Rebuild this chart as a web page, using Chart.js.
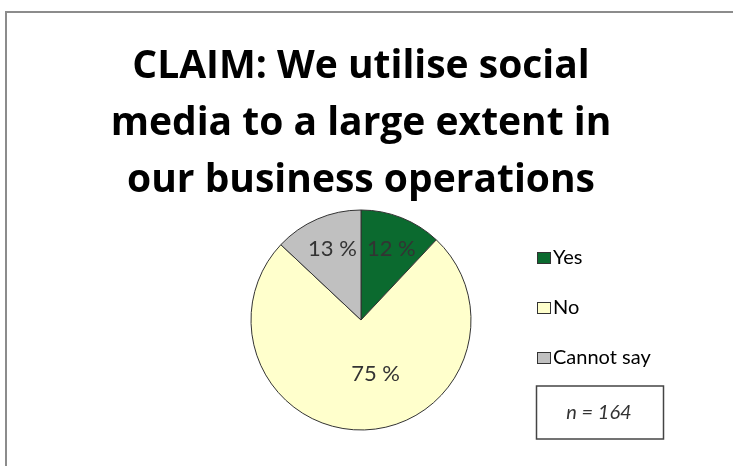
<!DOCTYPE html>
<html>
<head>
<meta charset="utf-8">
<script src="https://cdn.jsdelivr.net/npm/chart.js@4.4.1/dist/chart.umd.min.js"></script>
<style>
  html, body { margin: 0; padding: 0; background: #fff; }
  #wrap { position: relative; width: 733px; height: 466px; overflow: hidden; }
  #wrap canvas { position: absolute; left: 0; top: 0; }
  #frame {
    position: absolute; left: 5px; top: 11px; right: -4px; bottom: -4px;
    border-left: 2px solid #8c8c8c; border-top: 2px solid #8c8c8c;
    pointer-events: none;
  }
</style>
</head>
<body>
<div id="wrap">
  <canvas id="claimChart" width="733" height="466"></canvas>
  <div id="frame"></div>
</div>
<script>
const titleLines = ['CLAIM: We utilise social', 'media to a large extent in', 'our business operations'];
const answers = ['Yes', 'No', 'Cannot say'];
const shares = [12, 75, 13];
const sliceColors = ['#0b6a2f', '#ffffcc', '#c0c0c0'];
const sampleNote = 'n = 164';

// percent labels inside each slice
const sliceLabels = {
    id: 'sliceLabels',
    afterDatasetsDraw(chart) {
        const {ctx} = chart;
        const meta = chart.getDatasetMeta(0);
        ctx.save();
        ctx.font = '22px Lato';
        ctx.fillStyle = '#333';
        ctx.textAlign = 'center';
        ctx.textBaseline = 'middle';
        meta.data.forEach((arc, i) => {
            const p = arc.getProps(['x', 'y', 'startAngle', 'endAngle', 'outerRadius']);
            let mid = (p.startAngle + p.endAngle) / 2;
            let k = 0.7;
            if (shares[i] > 50) {
                // big slice: pull label in and a little towards the right
                mid -= 0.2;
                k = 0.5;
            }
            const r = p.outerRadius * k;
            ctx.fillText(shares[i] + ' %', p.x + Math.cos(mid) * r + 2, p.y + Math.sin(mid) * r);
        });
        ctx.restore();
    }
};

// legend column and the sample size box on the right
const sideLegend = {
    id: 'sideLegend',
    afterDraw(chart) {
        const {ctx} = chart;
        const x = 537, y0 = 257.5, step = 50;
        ctx.save();
        ctx.font = '20px Lato';
        ctx.textBaseline = 'middle';
        ctx.textAlign = 'left';
        answers.forEach((name, i) => {
            const y = y0 + i * step;
            ctx.fillStyle = sliceColors[i];
            ctx.fillRect(x, y - 5.5, 13, 11);
            ctx.strokeStyle = '#333';
            ctx.lineWidth = 1;
            ctx.strokeRect(x + 0.5, y - 5, 13, 11);
            ctx.fillStyle = '#000';
            ctx.fillText(name, x + 16, y);
        });
        ctx.strokeStyle = '#444';
        ctx.lineWidth = 1.5;
        ctx.strokeRect(536.5, 386, 127, 53);
        ctx.font = 'italic 20px Lato';
        ctx.fillStyle = '#333';
        ctx.textAlign = 'center';
        ctx.fillText(sampleNote, 599, 413);
        ctx.restore();
    }
};

const chart = new Chart(document.querySelector('#claimChart'), {
    type: 'pie',
    data: {
        labels: answers,
        datasets: [{
            data: shares,
            backgroundColor: sliceColors,
            borderColor: '#333',
            borderWidth: 1,
            radius: 110
        }]
    },
    options: {
        responsive: false,
        animation: false,
        layout: { padding: { left: 0, right: 11, top: 0, bottom: 35 } },
        plugins: {
            legend: { display: false },
            tooltip: { enabled: false },
            title: {
                display: true,
                text: titleLines,
                color: '#000',
                font: { family: 'Open Sans', weight: 'bold', size: 39, lineHeight: 57 / 39 },
                padding: { top: 38, bottom: 0 }
            }
        }
    },
    plugins: [sliceLabels, sideLegend]
});
</script>
</body>
</html>
